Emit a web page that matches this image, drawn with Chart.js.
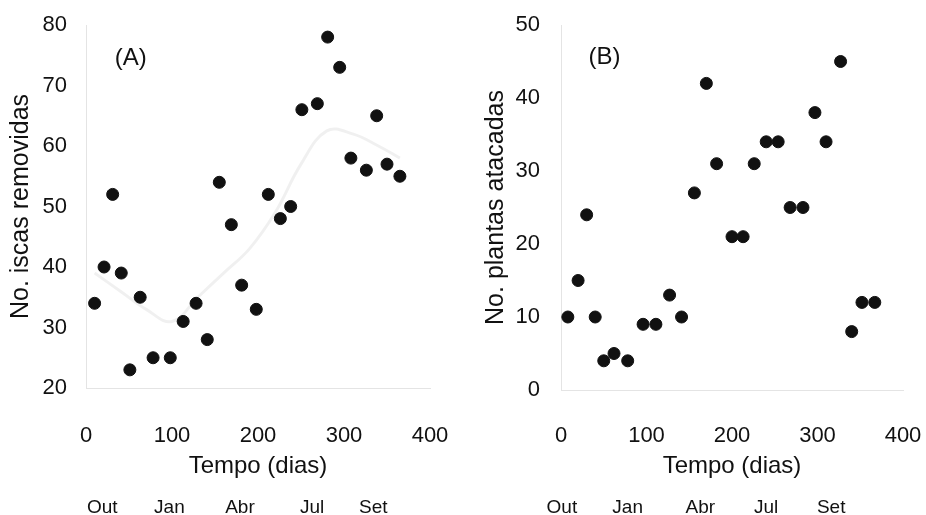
<!DOCTYPE html>
<html>
<head>
<meta charset="utf-8">
<script src="https://cdn.jsdelivr.net/npm/chart.js@4.4.1/dist/chart.umd.min.js"></script>
<style>
    body { margin: 0; background: #fff; }
    .painel { position: absolute; top: 0; width: 463px; height: 515px; }
</style>
</head>
<body>
<div class="painel" style="left:0"><canvas id="graficoA" width="463" height="515"></canvas></div>
<div class="painel" style="left:463px"><canvas id="graficoB" width="463" height="515"></canvas></div>
<script>
// (A) iscas removidas
var diasA = [10, 21, 31, 41, 51, 63, 78, 98, 113, 128, 141, 155, 169, 181, 198, 212, 226, 238, 251, 269, 281, 295, 308, 326, 338, 350, 365];
var iscasA = [34, 40, 52, 39, 23, 35, 25, 25, 31, 34, 28, 54, 47, 37, 33, 52, 48, 50, 66, 67, 78, 73, 58, 56, 65, 57, 55];
// curva de tendencia (cinza claro)
var tendDiasA = [10, 40, 70, 100, 130, 160, 190, 220, 250, 280, 310, 340, 365];
var tendIscasA = [39, 36, 33, 31, 35, 39, 43, 49, 57, 62.5, 62, 60, 58];

// (B) plantas atacadas
var diasB = [8, 20, 30, 40, 50, 62, 78, 96, 111, 127, 141, 156, 170, 182, 200, 213, 226, 240, 254, 268, 283, 297, 310, 327, 340, 352, 367];
var plantasB = [10, 15, 24, 10, 4, 5, 4, 9, 9, 13, 10, 27, 42, 31, 21, 21, 31, 34, 34, 25, 25, 38, 34, 45, 8, 12, 12];

// meses sob o eixo x
var meses = ['Out', 'Jan', 'Abr', 'Jul', 'Set'];
var mesesDiaA = [19, 97, 179, 263, 334];
var mesesDiaB = [1, 78, 163, 240, 316];

var fonte = "'Liberation Sans', Arial, sans-serif";
var cor = '#111';

function pontos(xs, ys) {
    var out = [];
    for (var i = 0; i < xs.length; i++) {
        out.push({x: xs[i], y: ys[i]});
    }
    return out;
}

var rotuloPainel = {
    id: 'rotuloPainel',
    afterDatasetsDraw: function(chart, args, opts) {
        var ctx = chart.ctx;
        var x = chart.scales.x.getPixelForValue(opts.x);
        var y = chart.scales.y.getPixelForValue(opts.y);
        ctx.save();
        ctx.font = '24px ' + fonte;
        ctx.fillStyle = cor;
        ctx.textAlign = 'center';
        ctx.textBaseline = 'middle';
        ctx.fillText(opts.text, x, y);
        ctx.restore();
    }
};

function semPadding(s) {
    s.paddingLeft = 0;
    s.paddingRight = 0;
    s.paddingTop = 0;
    s.paddingBottom = 0;
}

function criarGrafico(id, cfg) {
    var datasets = [];
    if (cfg.tendencia) {
        datasets.push({
            data: cfg.tendencia,
            showLine: true,
            borderColor: 'rgba(0,0,0,0.06)',
            borderWidth: 3,
            pointRadius: 0,
            tension: 0.4
        });
    }
    datasets.push({
        data: cfg.pontos,
        backgroundColor: cor,
        borderColor: cor,
        pointRadius: 6,
        pointHoverRadius: 6
    });

    return new Chart(document.getElementById(id), {
        type: 'scatter',
        data: { datasets: datasets },
        plugins: [rotuloPainel],
        options: {
            responsive: false,
            animation: false,
            layout: { padding: { top: 25, right: cfg.padDir, bottom: 0, left: 0 } },
            plugins: {
                legend: { display: false },
                tooltip: { enabled: false },
                rotuloPainel: cfg.rotulo
            },
            scales: {
                x: {
                    type: 'linear', position: 'bottom', min: 0, max: 400,
                    grid: { display: false },
                    border: { color: '#e4e4e4' },
                    ticks: { stepSize: 100, color: cor, padding: cfg.padTickX, font: { family: fonte, size: 22 } },
                    title: { display: true, text: 'Tempo (dias)', color: cor, padding: 0, font: { family: fonte, size: 24 } },
                    afterFit: function(s) { s.height = cfg.altX; semPadding(s); }
                },
                meses: {
                    type: 'linear', position: 'bottom', weight: 1, min: 0, max: 400,
                    grid: { display: false, drawTicks: false },
                    border: { display: false },
                    afterBuildTicks: function(s) {
                        s.ticks = cfg.mesesDia.map(function(v) { return {value: v}; });
                    },
                    ticks: {
                        autoSkip: false, maxRotation: 0, color: cor, padding: 15,
                        font: { family: fonte, size: 19 },
                        callback: function(v, i) { return meses[i]; }
                    },
                    afterFit: function(s) { s.height = cfg.altMeses; semPadding(s); }
                },
                y: {
                    min: cfg.yMin, max: cfg.yMax,
                    grid: { display: false, drawTicks: false },
                    border: { color: '#e4e4e4' },
                    ticks: { stepSize: 10, color: cor, padding: cfg.padTickY, font: { family: fonte, size: 22 } },
                    title: { display: true, text: cfg.tituloY, color: cor, padding: { top: cfg.padTituloY, bottom: 0 }, font: { family: fonte, size: 25 } },
                    afterFit: function(s) { s.width = cfg.largY; semPadding(s); }
                }
            }
        }
    });
}

criarGrafico('graficoA', {
    pontos: pontos(diasA, iscasA),
    tendencia: pontos(tendDiasA, tendIscasA),
    mesesDia: mesesDiaA,
    yMin: 20, yMax: 80,
    tituloY: 'No. iscas removidas',
    rotulo: { text: '(A)', x: 52, y: 74.5 },
    largY: 86, padTickY: 19, padTituloY: 6,
    padDir: 33, padTickX: 27, altX: 93, altMeses: 34
});

criarGrafico('graficoB', {
    pontos: pontos(diasB, plantasB),
    mesesDia: mesesDiaB,
    yMin: 0, yMax: 50,
    tituloY: 'No. plantas atacadas',
    rotulo: { text: '(B)', x: 51, y: 45.5 },
    largY: 98, padTickY: 21, padTituloY: 18,
    padDir: 23, padTickX: 25, altX: 91, altMeses: 34
});
</script>
</body>
</html>
